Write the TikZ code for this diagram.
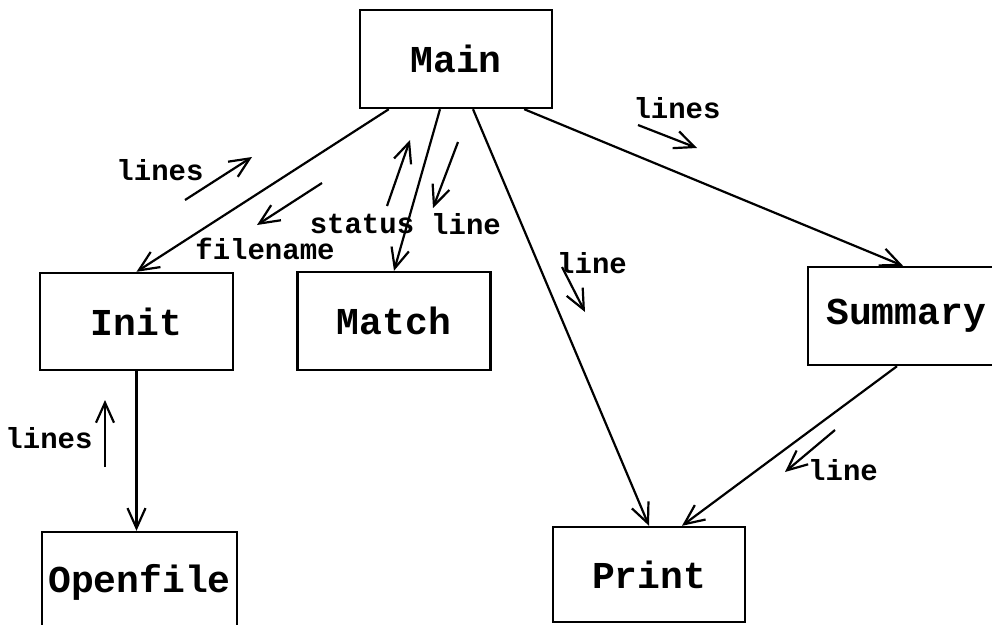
\documentclass[tikz,border=0pt]{standalone}
\usepackage{fontspec}
\newfontfamily\courfont{Liberation Mono}
\usetikzlibrary{arrows.meta}
\tikzset{
  box/.style={draw, line width=2.4pt, inner sep=0pt, font=\courfont\bfseries\fontsize{38}{42}\selectfont},
  lbl/.style={inner sep=0pt, font=\courfont\bfseries\fontsize{29}{32}\selectfont},
  conn/.style={line width=2.2pt, -{Straight Barb[length=20pt,width=18pt,line width=2.2pt]}},
}
\begin{document}
\begin{tikzpicture}[x=1pt,y=-1pt]
\useasboundingbox (0,0) rectangle (992,624);
\clip (0,0) rectangle (992,624);
% boxes
\node[box, minimum width=192pt, minimum height=98pt] (main) at (456,59) {Main};
\node[box, minimum width=193pt, minimum height=97pt] (init) at (136.5,321.5) {Init};
\node[box, minimum width=193pt, minimum height=98pt] (match) at (394,321) {Match};
\node[box, minimum width=196pt, minimum height=98pt] (summary) at (906,316) {Summary};
\node[box, minimum width=192pt, minimum height=95pt] (print) at (649,574.5) {Print};
\node[box, minimum width=195pt, minimum height=100pt] (openfile) at (139.5,582) {Openfile};
% connectors
\draw[conn] ([xshift=30pt]main.south west) -- (init.north);
\draw[conn] ([xshift=-16pt]main.south) -- (match.north);
\draw[conn] ([xshift=17pt]main.south) -- (print.north);
\draw[conn] ([xshift=-29pt]main.south east) -- ([xshift=-3pt]summary.north);
\draw[conn] ([xshift=-9pt]summary.south) -- ([xshift=33pt]print.north);
\draw[conn] (init.south) -- (init.south |- openfile.north);
% labels
\node[lbl] (l1) at (160,170) {lines};
\node[lbl] (l2) at (265,249) {filename};
\node[lbl] (l3) at (362,224) {status};
\node[lbl] (l4) at (466,224) {line};
\node[lbl] (l5) at (677,108) {lines};
\node[lbl] (l6) at (592,263) {line};
\node[lbl] (l7) at (843,470) {line};
\node[lbl] (l8) at (49,438) {lines};
% label arrows
\coordinate (a1s) at (185,200); \coordinate (a1e) at (252,157);
\coordinate (a2s) at (322,183); \coordinate (a2e) at (257,225);
\coordinate (a3s) at (387,206); \coordinate (a3e) at (410,140);
\coordinate (a4s) at (458,142); \coordinate (a4e) at (433,208);
\coordinate (a5s) at (638,125); \coordinate (a5e) at (697,148);
\coordinate (a6s) at (562,267); \coordinate (a6e) at (585,312);
\coordinate (a7s) at (835,430); \coordinate (a7e) at (785,472);
\coordinate (a8s) at (105,467); \coordinate (a8e) at (105,400);
\foreach \i in {1,...,8} \draw[conn] (a\i s) -- (a\i e);
\end{tikzpicture}
\end{document}
